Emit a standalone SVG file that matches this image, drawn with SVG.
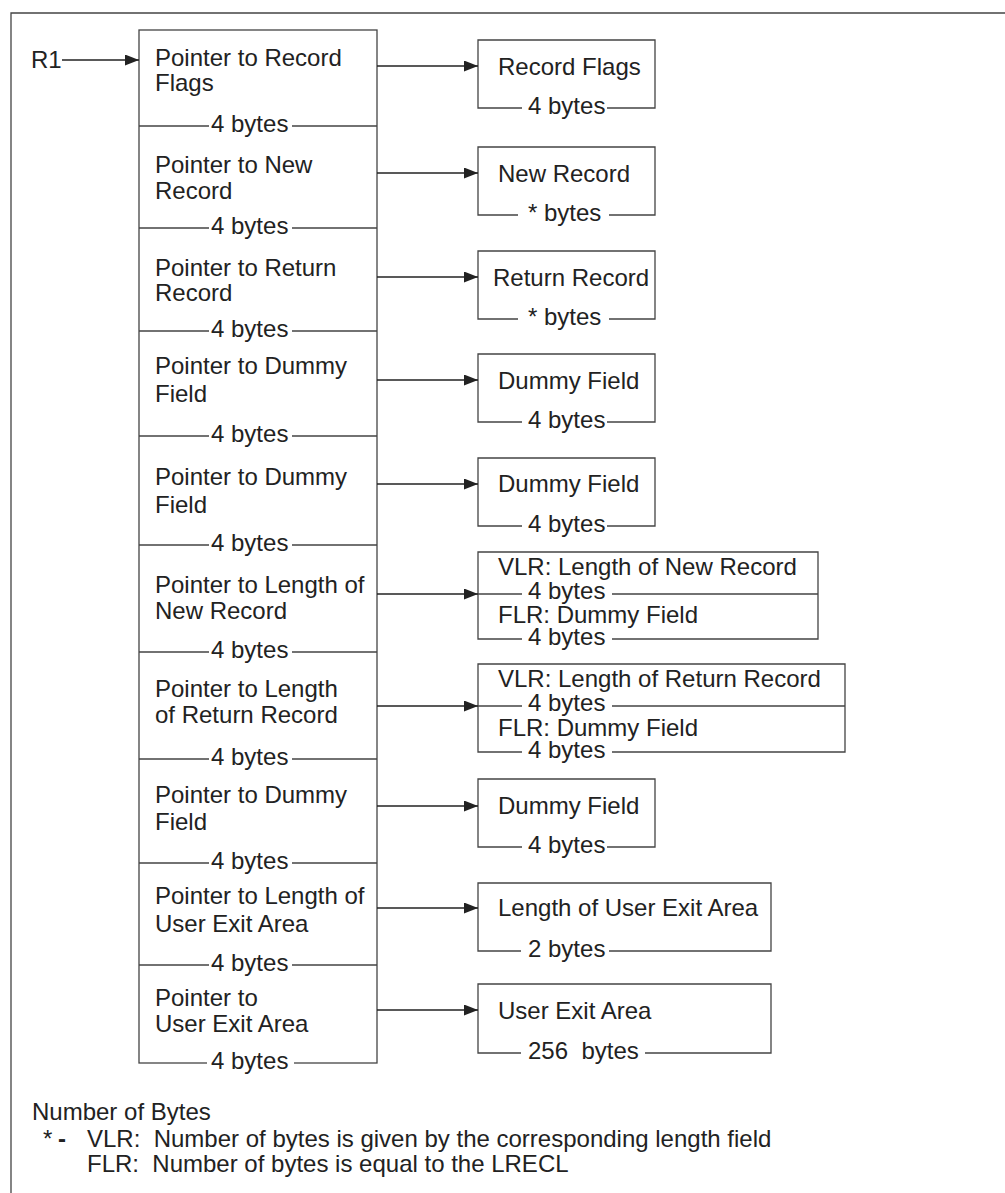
<svg xmlns="http://www.w3.org/2000/svg" width="1005" height="1193" viewBox="0 0 1005 1193">
<style>
text{font-family:"Liberation Sans",Arial,sans-serif;font-size:24px;fill:#222}
.b{fill:none;stroke:#444;stroke-width:1.3}
.l{stroke:#444;stroke-width:1.3;fill:none}
.c{stroke:#222;stroke-width:1.3;fill:none;marker-end:url(#ah)}
</style>
<defs>
<marker id="ah" markerUnits="userSpaceOnUse" markerWidth="14" markerHeight="11" refX="14" refY="5.5" orient="auto">
<path d="M0,0 L14,5.5 L0,11 z" fill="#222"/>
</marker>
</defs>
<rect width="1005" height="1193" fill="#fff"/>
<path class="l" d="M11,1193 V13 H1005"/>
<g id="r1"><text x="31" y="68">R1</text></g>
<g id="pointers">
<rect class="b" x="139" y="30" width="238" height="1033"/>
<g id="p1"><text x="155" y="66">Pointer to Record</text><text x="155" y="91">Flags</text>
<path class="l" d="M139,126H209M292,126H377"/><text x="211" y="132">4 bytes</text></g>
<g id="p2"><text x="155" y="173">Pointer to New</text><text x="155" y="199">Record</text>
<path class="l" d="M139,228H209M292,228H377"/><text x="211" y="234">4 bytes</text></g>
<g id="p3"><text x="155" y="276">Pointer to Return</text><text x="155" y="301">Record</text>
<path class="l" d="M139,331H209M292,331H377"/><text x="211" y="337">4 bytes</text></g>
<g id="p4"><text x="155" y="374">Pointer to Dummy</text><text x="155" y="402">Field</text>
<path class="l" d="M139,436H209M292,436H377"/><text x="211" y="442">4 bytes</text></g>
<g id="p5"><text x="155" y="485">Pointer to Dummy</text><text x="155" y="513">Field</text>
<path class="l" d="M139,545H209M292,545H377"/><text x="211" y="551">4 bytes</text></g>
<g id="p6"><text x="155" y="593">Pointer to Length of</text><text x="155" y="619">New Record</text>
<path class="l" d="M139,652H209M292,652H377"/><text x="211" y="658">4 bytes</text></g>
<g id="p7"><text x="155" y="697">Pointer to Length</text><text x="155" y="723">of Return Record</text>
<path class="l" d="M139,759H209M292,759H377"/><text x="211" y="765">4 bytes</text></g>
<g id="p8"><text x="155" y="803">Pointer to Dummy</text><text x="155" y="830">Field</text>
<path class="l" d="M139,863H209M292,863H377"/><text x="211" y="869">4 bytes</text></g>
<g id="p9"><text x="155" y="904">Pointer to Length of</text><text x="155" y="932">User Exit Area</text>
<path class="l" d="M139,965H209M292,965H377"/><text x="211" y="971">4 bytes</text></g>
<g id="p10"><text x="155" y="1006">Pointer to</text><text x="155" y="1032">User Exit Area</text>
<rect x="207" y="1055" width="87" height="16" fill="#fff"/><text x="211" y="1069">4 bytes</text></g>
</g>
<g id="n1"><path class="b" d="M522,108H478V40H655V108H607"/><text x="498" y="75">Record Flags</text><text x="528" y="114">4 bytes</text></g>
<g id="n2"><path class="b" d="M518,215H478V147H655V215H609"/><text x="498" y="182">New Record</text><text x="528" y="221">* bytes</text></g>
<g id="n3"><path class="b" d="M518,319H478V251H655V319H609"/><text x="493" y="286">Return Record</text><text x="528" y="325">* bytes</text></g>
<g id="n4"><path class="b" d="M522,422H478V354H655V422H607"/><text x="498" y="389">Dummy Field</text><text x="528" y="428">4 bytes</text></g>
<g id="n5"><path class="b" d="M522,526H478V458H655V526H607"/><text x="498" y="492">Dummy Field</text><text x="528" y="532">4 bytes</text></g>
<g id="n6"><path class="b" d="M522,639H478V552H818V639H612M478,594H522M612,594H818"/><text x="498" y="575">VLR: Length of New Record</text><text x="528" y="599">4 bytes</text><text x="498" y="623">FLR: Dummy Field</text><text x="528" y="645">4 bytes</text></g>
<g id="n7"><path class="b" d="M522,752H478V664H845V752H612M478,706H522M612,706H845"/><text x="498" y="687">VLR: Length of Return Record</text><text x="528" y="711">4 bytes</text><text x="498" y="736">FLR: Dummy Field</text><text x="528" y="758">4 bytes</text></g>
<g id="n8"><path class="b" d="M522,847H478V779H655V847H607"/><text x="498" y="814">Dummy Field</text><text x="528" y="853">4 bytes</text></g>
<g id="n9"><path class="b" d="M521,951H478V883H771V951H609"/><text x="498" y="916">Length of User Exit Area</text><text x="528" y="957">2 bytes</text></g>
<g id="n10"><path class="b" d="M521,1053H478V984H771V1053H645"/><text x="498" y="1019">User Exit Area</text><text x="528" y="1059" xml:space="preserve">256  bytes</text></g>
<g id="connectors">
<path class="c" d="M62,60H139"/>
<path class="c" d="M377,66H478"/>
<path class="c" d="M377,173H478"/>
<path class="c" d="M377,277H478"/>
<path class="c" d="M377,380H478"/>
<path class="c" d="M377,484H478"/>
<path class="c" d="M377,594H478"/>
<path class="c" d="M377,706H478"/>
<path class="c" d="M377,806H478"/>
<path class="c" d="M377,908H478"/>
<path class="c" d="M377,1010H478"/>
</g>
<g id="legend">
<text x="32" y="1120">Number of Bytes</text>
<text x="43" y="1147">*</text>
<text x="58" y="1147" font-weight="bold">-</text>
<text x="87" y="1147" xml:space="preserve">VLR:  Number of bytes is given by the corresponding length field</text>
<text x="87" y="1172" xml:space="preserve">FLR:  Number of bytes is equal to the LRECL</text>
</g>
</svg>
